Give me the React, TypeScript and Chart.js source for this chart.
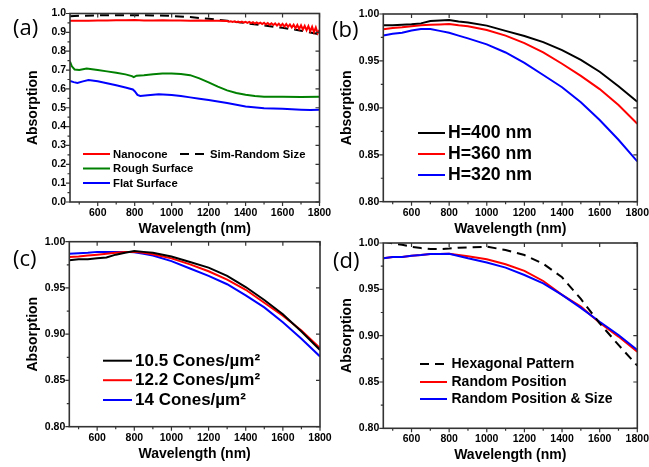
import React, { useEffect, useRef } from "react";
import { Chart, registerables } from "chart.js";
Chart.register(...registerables);

const PAGE_W = 649;
const PAGE_H = 467;

// ---------- axis ticks ----------
const X_TICKS = [600, 800, 1000, 1200, 1400, 1600, 1800];
const X_MINOR = [500, 700, 900, 1100, 1300, 1500, 1700];
const A_Y_TICKS = [0.0, 0.1, 0.2, 0.3, 0.4, 0.5, 0.6, 0.7, 0.8, 0.9, 1.0];
const A_Y_MINOR = [0.05, 0.15, 0.25, 0.35, 0.45, 0.55, 0.65, 0.75, 0.85, 0.95];
const BCD_Y_TICKS = [0.8, 0.85, 0.9, 0.95, 1.0];
const BCD_Y_MINOR = [0.825, 0.875, 0.925, 0.975];

// ---------- panel (a) ----------
const A_NANOCONE_WL = [450, 500, 550, 600, 650, 700, 750, 800, 850, 900, 950, 1000, 1050, 1100, 1150, 1200, 1250,
  1300, 1310, 1320, 1330, 1340, 1350, 1360, 1370, 1380, 1390,
  1400, 1410, 1420, 1430, 1440, 1450, 1460, 1470, 1480, 1490,
  1500, 1510, 1520, 1530, 1540, 1550, 1560, 1570, 1580, 1590,
  1600, 1610, 1620, 1630, 1640, 1650, 1660, 1670, 1680, 1690,
  1700, 1710, 1720, 1730, 1740, 1750, 1760, 1770, 1780, 1790, 1800];
const A_NANOCONE = [0.961, 0.962, 0.962, 0.963, 0.963, 0.964, 0.964, 0.966, 0.963, 0.963, 0.964, 0.963, 0.963, 0.962, 0.963, 0.962, 0.961,
  0.960, 0.956, 0.959, 0.955, 0.958, 0.954, 0.957, 0.953, 0.957, 0.952,
  0.956, 0.950, 0.955, 0.949, 0.954, 0.947, 0.953, 0.946, 0.951, 0.944,
  0.951, 0.942, 0.949, 0.940, 0.948, 0.939, 0.947, 0.936, 0.946, 0.934,
  0.945, 0.931, 0.944, 0.929, 0.942, 0.926, 0.941, 0.922, 0.939, 0.918,
  0.937, 0.915, 0.934, 0.911, 0.933, 0.906, 0.929, 0.901, 0.926, 0.895, 0.912];
const A_SIM_WL = [450, 500, 600, 700, 800, 900, 1000, 1100, 1200, 1300, 1400, 1500, 1600, 1700, 1800];
const A_SIM = [0.985, 0.988, 0.990, 0.991, 0.991, 0.990, 0.987, 0.981, 0.972, 0.961, 0.949, 0.936, 0.924, 0.909, 0.890];
const A_ROUGH_WL = [450, 460, 475, 500, 540, 600, 650, 700, 750, 785, 795, 810, 850, 900, 950, 1000, 1050, 1100, 1150, 1200,
  1250, 1300, 1350, 1400, 1450, 1500, 1600, 1700, 1800];
const A_ROUGH = [0.745, 0.72, 0.703, 0.700, 0.708, 0.700, 0.693, 0.686, 0.677, 0.668, 0.662, 0.670, 0.672, 0.678, 0.682, 0.682,
  0.679, 0.673, 0.656, 0.635, 0.612, 0.592, 0.578, 0.569, 0.562, 0.559, 0.558, 0.557, 0.558];
const A_FLAT_WL = [450, 470, 490, 520, 550, 600, 650, 700, 750, 790, 800, 815, 830, 870, 930, 1000, 1050, 1100, 1150, 1200,
  1300, 1400, 1500, 1600, 1700, 1750, 1800];
const A_FLAT = [0.642, 0.636, 0.632, 0.640, 0.647, 0.640, 0.630, 0.619, 0.607, 0.597, 0.588, 0.568, 0.563, 0.566, 0.571, 0.567,
  0.562, 0.555, 0.548, 0.541, 0.525, 0.507, 0.497, 0.495, 0.490, 0.488, 0.490];

// ---------- panels (b), (c), (d) share a wavelength grid ----------
const WL = [450, 500, 550, 600, 650, 700, 750, 800, 850, 900, 1000, 1100, 1200, 1300, 1400, 1500, 1600, 1700, 1800];

const B_H400 = [0.988, 0.988, 0.9885, 0.989, 0.990, 0.9925, 0.993, 0.9935, 0.992, 0.991, 0.9876, 0.982, 0.9766, 0.970, 0.9616, 0.951, 0.9385, 0.923, 0.9066];
const B_H360 = [0.9837, 0.985, 0.9858, 0.987, 0.988, 0.9885, 0.9888, 0.9893, 0.988, 0.987, 0.983, 0.977, 0.969, 0.959, 0.947, 0.934, 0.920, 0.903, 0.883];
const B_H320 = [0.977, 0.979, 0.980, 0.9825, 0.984, 0.984, 0.982, 0.980, 0.977, 0.974, 0.9677, 0.959, 0.948, 0.935, 0.922, 0.906, 0.887, 0.866, 0.843];

const C_105 = [0.980, 0.981, 0.981, 0.982, 0.983, 0.986, 0.988, 0.990, 0.989, 0.988, 0.984, 0.978, 0.972, 0.963, 0.951, 0.937, 0.9215, 0.903, 0.883];
const C_122 = [0.9835, 0.984, 0.985, 0.986, 0.987, 0.988, 0.989, 0.989, 0.988, 0.9865, 0.982, 0.9755, 0.968, 0.959, 0.948, 0.934, 0.920, 0.904, 0.885];
const C_14 = [0.987, 0.9875, 0.988, 0.989, 0.989, 0.989, 0.989, 0.9885, 0.987, 0.985, 0.979, 0.971, 0.963, 0.954, 0.942, 0.929, 0.913, 0.895, 0.876];

const D_HEX = [1.0015, 0.9995, 0.998, 0.996, 0.9945, 0.9935, 0.9935, 0.994, 0.995, 0.9953, 0.996, 0.9925, 0.987, 0.9777, 0.963, 0.9396, 0.9133, 0.890, 0.8676];
const D_RP = [0.9835, 0.985, 0.985, 0.9863, 0.987, 0.988, 0.988, 0.9885, 0.987, 0.9856, 0.9824, 0.977, 0.970, 0.959, 0.944, 0.9313, 0.914, 0.899, 0.8827];
const D_RPS = [0.9835, 0.985, 0.985, 0.9863, 0.987, 0.988, 0.988, 0.9885, 0.986, 0.9835, 0.979, 0.9734, 0.9655, 0.9565, 0.944, 0.930, 0.915, 0.9007, 0.8845];

// ---------- text ----------
const PANEL_LABELS = ["(a)", "(b)", "(c)", "(d)"];
const X_TITLE = "Wavelength (nm)";
const Y_TITLE = "Absorption";

// ---------- styling ----------
const FAMILY = "'Liberation Sans', Arial, Helvetica, sans-serif";
const RED = "#ff0000";
const GREEN = "#008000";
const BLUE = "#0000ff";
const BLACK = "#000000";
const FRAME = "#333333";
const DASH = [9, 6];

type Series = { label: string; wl: number[]; values: number[]; color: string; dash?: number[] };
type LegendItem = { label: string; dx: number; dy: number };
type Panel = {
  key: string;
  rect: { left: number; top: number; right: number; bottom: number };
  yMin: number; yMax: number; yTicks: number[]; yMinor: number[]; yDec: number;
  series: Series[]; // index 0 is drawn on top
  legend: { font: string; lineLen: number; gap: number; items: LegendItem[] };
  label: { text: string; dx: number; dy: number };
};

const PANELS: Panel[] = [
  {
    key: "a",
    rect: { left: 70, top: 13.5, right: 319.5, bottom: 202 },
    yMin: 0, yMax: 1.0, yTicks: A_Y_TICKS, yMinor: A_Y_MINOR, yDec: 1,
    series: [
      { label: "Nanocone", wl: A_NANOCONE_WL, values: A_NANOCONE, color: RED },
      { label: "Sim-Random Size", wl: A_SIM_WL, values: A_SIM, color: BLACK, dash: DASH },
      { label: "Rough Surface", wl: A_ROUGH_WL, values: A_ROUGH, color: GREEN },
      { label: "Flat Surface", wl: A_FLAT_WL, values: A_FLAT, color: BLUE },
    ],
    legend: {
      font: `bold 11.3px ${FAMILY}`, lineLen: 27, gap: 3,
      items: [
        { label: "Nanocone", dx: 13, dy: 140.5 },
        { label: "Sim-Random Size", dx: 110, dy: 140.5 },
        { label: "Rough Surface", dx: 13, dy: 155 },
        { label: "Flat Surface", dx: 13, dy: 169.5 },
      ],
    },
    label: { text: PANEL_LABELS[0], dx: -57, dy: 15.5 },
  },
  {
    key: "b",
    rect: { left: 383.3, top: 14, right: 637.3, bottom: 201.7 },
    yMin: 0.8, yMax: 1.0, yTicks: BCD_Y_TICKS, yMinor: BCD_Y_MINOR, yDec: 2,
    series: [
      { label: "H=400 nm", wl: WL, values: B_H400, color: BLACK },
      { label: "H=360 nm", wl: WL, values: B_H360, color: RED },
      { label: "H=320 nm", wl: WL, values: B_H320, color: BLUE },
    ],
    legend: {
      font: `bold 17.7px ${FAMILY}`, lineLen: 27, gap: 3,
      items: [
        { label: "H=400 nm", dx: 34.7, dy: 119 },
        { label: "H=360 nm", dx: 34.7, dy: 140 },
        { label: "H=320 nm", dx: 34.7, dy: 161 },
      ],
    },
    label: { text: PANEL_LABELS[1], dx: -51.3, dy: 17 },
  },
  {
    key: "c",
    rect: { left: 69.3, top: 241.7, right: 320, bottom: 426.7 },
    yMin: 0.8, yMax: 1.0, yTicks: BCD_Y_TICKS, yMinor: BCD_Y_MINOR, yDec: 2,
    series: [
      { label: "10.5 Cones/µm²", wl: WL, values: C_105, color: BLACK },
      { label: "12.2 Cones/µm²", wl: WL, values: C_122, color: RED },
      { label: "14 Cones/µm²", wl: WL, values: C_14, color: BLUE },
    ],
    legend: {
      font: `bold 17px ${FAMILY}`, lineLen: 29, gap: 3,
      items: [
        { label: "10.5 Cones/µm²", dx: 33.7, dy: 119 },
        { label: "12.2 Cones/µm²", dx: 33.7, dy: 138.5 },
        { label: "14 Cones/µm²", dx: 33.7, dy: 158.3 },
      ],
    },
    label: { text: PANEL_LABELS[2], dx: -56.3, dy: 18.3 },
  },
  {
    key: "d",
    rect: { left: 383.3, top: 243, right: 637.3, bottom: 428.3 },
    yMin: 0.8, yMax: 1.0, yTicks: BCD_Y_TICKS, yMinor: BCD_Y_MINOR, yDec: 2,
    series: [
      { label: "Hexagonal Pattern", wl: WL, values: D_HEX, color: BLACK, dash: DASH },
      { label: "Random Position & Size", wl: WL, values: D_RPS, color: BLUE },
      { label: "Random Position", wl: WL, values: D_RP, color: RED },
    ],
    legend: {
      font: `bold 14px ${FAMILY}`, lineLen: 27, gap: 4.5,
      items: [
        { label: "Hexagonal Pattern", dx: 36.7, dy: 121 },
        { label: "Random Position", dx: 36.7, dy: 139 },
        { label: "Random Position & Size", dx: 36.7, dy: 156 },
      ],
    },
    label: { text: PANEL_LABELS[3], dx: -50.3, dy: 19 },
  },
];

const Y_AXIS_W = 49;
const X_AXIS_H = 39.4;

function makeFramePlugin(p: Panel) {
  return {
    id: "frame_" + p.key,
    afterDraw(chart: any) {
      const ctx: CanvasRenderingContext2D = chart.ctx;
      const a = chart.chartArea;
      const xs = chart.scales.x;
      const ys = chart.scales.y;
      const MAJ = 4;
      const MIN = 2.5;
      ctx.save();
      ctx.strokeStyle = FRAME;
      ctx.lineWidth = 1.2;
      ctx.setLineDash([]);
      ctx.beginPath();
      X_TICKS.forEach((v) => {
        const px = xs.getPixelForValue(v);
        ctx.moveTo(px, a.bottom); ctx.lineTo(px, a.bottom + MAJ);
        ctx.moveTo(px, a.top); ctx.lineTo(px, a.top + MAJ);
      });
      X_MINOR.forEach((v) => {
        const px = xs.getPixelForValue(v);
        ctx.moveTo(px, a.bottom); ctx.lineTo(px, a.bottom + MIN);
      });
      p.yTicks.forEach((v) => {
        const py = ys.getPixelForValue(v);
        ctx.moveTo(a.left - MAJ, py); ctx.lineTo(a.left, py);
        ctx.moveTo(a.right, py); ctx.lineTo(a.right - MAJ, py);
      });
      p.yMinor.forEach((v) => {
        const py = ys.getPixelForValue(v);
        ctx.moveTo(a.left - MIN, py); ctx.lineTo(a.left, py);
      });
      ctx.stroke();
      ctx.lineWidth = 1.6;
      ctx.strokeRect(a.left, a.top, a.right - a.left, a.bottom - a.top);

      // legend
      const lg = p.legend;
      ctx.font = lg.font;
      ctx.textBaseline = "middle";
      ctx.textAlign = "left";
      lg.items.forEach((it) => {
        const s = p.series.find((q) => q.label === it.label)!;
        const x0 = a.left + it.dx;
        const y0 = a.top + it.dy;
        ctx.strokeStyle = s.color;
        ctx.lineWidth = 2;
        ctx.setLineDash(s.dash ? s.dash : []);
        ctx.beginPath();
        ctx.moveTo(x0, y0);
        ctx.lineTo(x0 + lg.lineLen, y0);
        ctx.stroke();
        ctx.setLineDash([]);
        ctx.fillStyle = "#000";
        ctx.fillText(it.label, x0 + lg.lineLen + lg.gap, y0 + 0.5);
      });

      // panel label
      ctx.font = `22px 'Open Sans', 'DejaVu Sans', sans-serif`;
      ctx.fillStyle = "#000";
      ctx.textBaseline = "middle";
      ctx.fillText(p.label.text, a.left + p.label.dx, a.top + p.label.dy);
      ctx.restore();
    },
  };
}

function makeChart(canvas: HTMLCanvasElement, p: Panel) {
  const r = p.rect;
  const tickFont = { family: FAMILY, size: 10.5, weight: "bold" as const };
  const titleFont = { family: FAMILY, size: 14, weight: "bold" as const };
  return new Chart(canvas, {
    type: "line",
    data: {
      datasets: p.series.map((s) => ({
        label: s.label,
        data: s.wl.map((x, i) => ({ x, y: s.values[i] })),
        borderColor: s.color,
        backgroundColor: s.color,
        borderWidth: 2,
        borderDash: s.dash ? s.dash : [],
        pointRadius: 0,
        fill: false,
        tension: 0,
      })),
    },
    options: {
      responsive: false,
      animation: false,
      devicePixelRatio: 1,
      events: [],
      layout: {
        padding: {
          left: r.left - Y_AXIS_W,
          top: r.top,
          right: PAGE_W - r.right,
          bottom: PAGE_H - r.bottom - X_AXIS_H,
        },
      },
      plugins: { legend: { display: false }, tooltip: { enabled: false } },
      scales: {
        x: {
          type: "linear",
          min: 450,
          max: 1800,
          grid: { display: false, drawTicks: false },
          border: { display: false },
          afterBuildTicks: (s: any) => { s.ticks = X_TICKS.map((v) => ({ value: v })); },
          afterFit: (s: any) => { s.height = X_AXIS_H; s.paddingLeft = 0; s.paddingRight = 0; },
          ticks: {
            font: tickFont, color: "#000", padding: 5, maxRotation: 0, autoSkip: false,
            callback: (v: any) => String(v),
          },
          title: { display: true, text: X_TITLE, font: titleFont, color: "#000" },
        },
        y: {
          type: "linear",
          min: p.yMin,
          max: p.yMax,
          grid: { display: false, drawTicks: false },
          border: { display: false },
          afterBuildTicks: (s: any) => { s.ticks = p.yTicks.map((v) => ({ value: v })); },
          afterFit: (s: any) => { s.width = Y_AXIS_W; s.paddingTop = 0; s.paddingBottom = 0; },
          ticks: {
            font: tickFont, color: "#000", padding: 4, autoSkip: false,
            callback: (v: any) => Number(v).toFixed(p.yDec),
          },
          title: { display: true, text: Y_TITLE, font: titleFont, color: "#000" },
        },
      },
    } as any,
    plugins: [makeFramePlugin(p)],
  });
}

export default function App() {
  const refs = useRef<(HTMLCanvasElement | null)[]>([]);
  useEffect(() => {
    document.body.style.margin = "0";
    const charts = PANELS.map((p, i) => makeChart(refs.current[i] as HTMLCanvasElement, p));
    return () => charts.forEach((c) => c.destroy());
  }, []);
  return (
    <div style={{ position: "relative", width: PAGE_W, height: PAGE_H, background: "#fff", overflow: "hidden" }}>
      {PANELS.map((p, i) => (
        <canvas
          key={p.key}
          ref={(el) => { refs.current[i] = el; }}
          width={PAGE_W}
          height={PAGE_H}
          style={{ position: "absolute", left: 0, top: 0 }}
        />
      ))}
    </div>
  );
}
